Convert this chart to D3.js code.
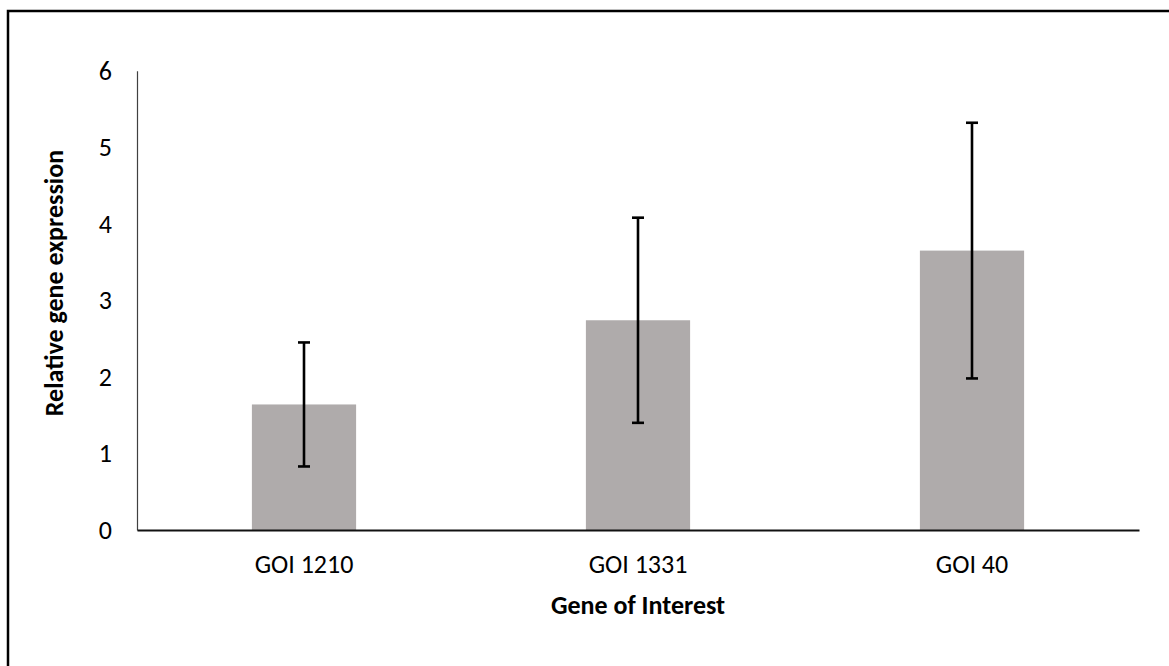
<!DOCTYPE html>
<html>
<head>
<meta charset="utf-8">
<script src="https://cdn.jsdelivr.net/npm/d3@7/dist/d3.min.js"></script>
<style>
  html, body { margin: 0; padding: 0; background: #fff; }
  svg { display: block; }
  text { font-family: Carlito, Calibri, Lato, sans-serif; fill: #000; }
</style>
</head>
<body>
<svg id="chart" width="1169" height="666"></svg>
<script>
// Relative expression for each gene of interest, with error (± SD)
const genes = ["GOI 1210", "GOI 1331", "GOI 40"];
const expression = [1.64, 2.74, 3.65];
const errors = [0.81, 1.34, 1.67];
const yTicks = [0, 1, 2, 3, 4, 5, 6];

const rows = genes.map((g, i) => ({ gene: g, value: expression[i], err: errors[i] }));

const svg = d3.select("#chart");
const W = 1169, H = 666;
const plot = { left: 137, right: 1139, top: 70.7, bottom: 530 };
const FONT = "Carlito, Calibri, Lato, sans-serif";
const FS = 26;

// outer frame (runs past the right and bottom edges)
svg.append("rect")
  .attr("x", 8).attr("y", 11)
  .attr("width", W + 20).attr("height", H + 20)
  .attr("fill", "none").attr("stroke", "#000").attr("stroke-width", 2.5);

const x = d3.scaleBand()
  .domain(genes)
  .range([plot.left, plot.right])
  .paddingInner(0.688)
  .paddingOuter(0.344);

const y = d3.scaleLinear()
  .domain([0, 6])
  .range([plot.bottom, plot.top]);

// bars
svg.append("g").selectAll("rect")
  .data(rows)
  .join("rect")
  .attr("x", d => x(d.gene))
  .attr("y", d => y(d.value))
  .attr("width", x.bandwidth())
  .attr("height", d => y(0) - y(d.value))
  .attr("fill", "#AFABAB");

// y axis: line plus labels, no tick marks
const yAxis = svg.append("g")
  .attr("transform", `translate(${plot.left},0)`)
  .call(d3.axisLeft(y).tickValues(yTicks).tickSize(0).tickPadding(25).tickFormat(d3.format("d")));
yAxis.select(".domain").attr("stroke", "#404040").attr("stroke-width", 1.2);
yAxis.selectAll("text")
  .attr("font-size", FS)
  .attr("font-family", FONT)
  .attr("dy", "0.32em");

// x axis
const xAxis = svg.append("g")
  .attr("transform", `translate(0,${plot.bottom})`)
  .call(d3.axisBottom(x).tickSize(0).tickPadding(0));
xAxis.select(".domain").attr("stroke", "#111").attr("stroke-width", 2);
xAxis.selectAll("text")
  .attr("font-size", FS)
  .attr("font-family", FONT)
  .attr("y", 43)
  .attr("dy", 0);

// error bars
const eb = svg.append("g").attr("stroke", "#000").attr("stroke-width", 2.6);
const cap = 6;
rows.forEach(d => {
  const cx = x(d.gene) + x.bandwidth() / 2;
  const yHi = y(d.value + d.err), yLo = y(d.value - d.err);
  eb.append("line").attr("x1", cx).attr("x2", cx).attr("y1", yHi).attr("y2", yLo);
  eb.append("line").attr("x1", cx - cap).attr("x2", cx + cap).attr("y1", yHi).attr("y2", yHi);
  eb.append("line").attr("x1", cx - cap).attr("x2", cx + cap).attr("y1", yLo).attr("y2", yLo);
});

// axis titles
svg.append("text")
  .attr("x", (plot.left + plot.right) / 2)
  .attr("y", 614)
  .attr("text-anchor", "middle")
  .attr("font-size", FS)
  .attr("font-weight", "bold")
  .text("Gene of Interest");

svg.append("text")
  .attr("transform", "translate(63,283) rotate(-90)")
  .attr("text-anchor", "middle")
  .attr("font-size", FS)
  .attr("font-weight", "bold")
  .text("Relative gene expression");
</script>
</body>
</html>
